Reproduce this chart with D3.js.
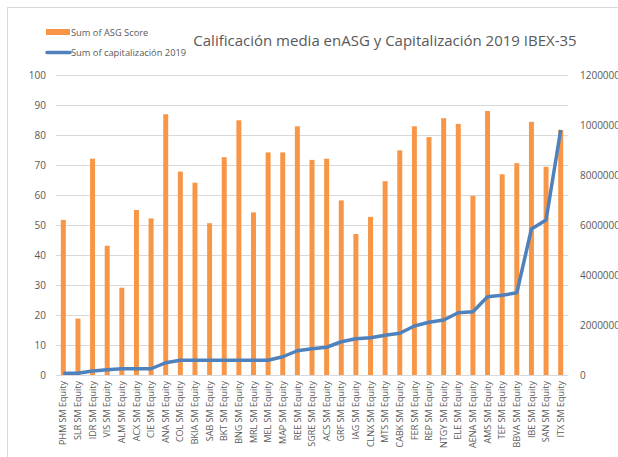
<!DOCTYPE html>
<html>
<head>
    <meta charset="UTF-8">
    <title>Calificación media ASG</title>
    <style>
        body { margin: 0; background: #fff; }
        text { font-family: "Open Sans", "Liberation Sans", sans-serif; fill: #595959; }
    </style>
</head>
<body>
    <script src="https://d3js.org/d3.v7.min.js"></script>
    <svg width="618" height="457"></svg>
    <script>
        // tickers, left to right
        let tickers = ['PHM', 'SLR', 'IDR', 'VIS', 'ALM', 'ACX', 'CIE', 'ANA', 'COL', 'BKIA',
            'SAB', 'BKT', 'BNG', 'MRL', 'MEL', 'MAP', 'REE', 'SGRE', 'ACS', 'GRF',
            'IAG', 'CLNX', 'MTS', 'CABK', 'FER', 'REP', 'NTGY', 'ELE', 'AENA', 'AMS',
            'TEF', 'BBVA', 'IBE', 'SAN', 'ITX'];
        let categories = tickers.map(t => t + ' SM Equity');

        // Sum of ASG Score (left axis)
        let asg_score = [51.7, 18.8, 72.1, 43.1, 29.1, 55, 52.2, 86.9, 67.8, 64.1,
            50.6, 72.6, 84.9, 54.2, 74.2, 74.2, 82.9, 71.7, 72.1, 58.2,
            47, 52.7, 64.6, 74.9, 82.9, 79.3, 85.6, 83.7, 59.7, 88,
            66.9, 70.6, 84.4, 69.4, 81.7];

        // Sum of capitalización 2019 (right axis)
        let capitalizacion = [700000, 700000, 1600000, 2100000, 2500000, 2500000, 2500000, 4900000, 5900000, 5900000,
            5900000, 5900000, 5900000, 5900000, 5900000, 7300000, 9700000, 10500000, 11100000, 13300000,
            14500000, 14900000, 15900000, 16700000, 19600000, 21100000, 22000000, 24900000, 25300000, 31300000,
            31900000, 32900000, 58400000, 62000000, 98000000];

        let left_ticks = [0, 10, 20, 30, 40, 50, 60, 70, 80, 90, 100];
        let right_ticks = [0, 20000000, 40000000, 60000000, 80000000, 100000000, 120000000];

        let svg = d3.select('svg');
        let margin = {left: 56, right: 568, top: 75, bottom: 375};

        // chart frame (runs past the right and bottom edges)
        svg.append('rect')
            .attr('x', 7.5).attr('y', 7.5)
            .attr('width', 700).attr('height', 480)
            .attr('fill', 'none')
            .attr('stroke', '#d9d9d9');

        let x = d3.scaleBand().domain(categories)
            .range([margin.left, margin.right])
            .paddingInner(0.66).paddingOuter(0.33);
        let y_left = d3.scaleLinear().domain([0, 100]).range([margin.bottom, margin.top]);
        let y_right = d3.scaleLinear().domain([0, 120000000]).range([margin.bottom, margin.top]);

        // gridlines
        svg.append('g')
            .selectAll('line')
            .data(left_ticks).enter()
            .append('line')
            .attr('x1', margin.left).attr('x2', margin.right)
            .attr('y1', d => Math.round(y_left(d)) + 0.5)
            .attr('y2', d => Math.round(y_left(d)) + 0.5)
            .attr('stroke', '#d9d9d9');

        // left axis
        let left_axis = svg.append('g')
            .attr('transform', 'translate(' + margin.left + ',0)')
            .call(d3.axisLeft(y_left).tickValues(left_ticks).tickSize(0).tickPadding(10));
        left_axis.select('.domain').remove();
        left_axis.selectAll('text').style('font-size', '10px').attr('fill', '#595959');

        // right axis
        let right_axis = svg.append('g')
            .attr('transform', 'translate(' + margin.right + ',0)')
            .call(d3.axisRight(y_right).tickValues(right_ticks).tickSize(0).tickPadding(12)
                .tickFormat(d3.format('d')));
        right_axis.select('.domain').remove();
        right_axis.selectAll('text').style('font-size', '10px').attr('fill', '#595959');

        // bars
        svg.append('g')
            .selectAll('rect')
            .data(asg_score).enter()
            .append('rect')
            .attr('x', (d, i) => x(categories[i]))
            .attr('width', x.bandwidth())
            .attr('y', d => y_left(d))
            .attr('height', d => y_left(0) - y_left(d))
            .attr('fill', '#f79646');

        // bottom axis
        let bottom_axis = svg.append('g')
            .attr('transform', 'translate(0,' + margin.bottom + ')')
            .call(d3.axisBottom(x).tickSize(0).tickPadding(6));
        bottom_axis.select('.domain').attr('stroke', '#d9d9d9');
        bottom_axis.selectAll('text')
            .style('font-size', '9px')
            .attr('fill', '#595959')
            .attr('text-anchor', 'end')
            .attr('dy', '0.35em')
            .attr('transform', 'rotate(-90)')
            .attr('x', -6).attr('y', 0);

        // line
        let line = d3.line()
            .x((d, i) => x(categories[i]) + x.bandwidth() / 2)
            .y(d => y_right(d));
        svg.append('path')
            .datum(capitalizacion)
            .attr('d', line)
            .attr('fill', 'none')
            .attr('stroke', '#4f81bd')
            .attr('stroke-width', 3.5)
            .attr('stroke-linejoin', 'round');

        // title
        svg.append('text')
            .attr('x', 385).attr('y', 46)
            .attr('text-anchor', 'middle')
            .style('font-size', '15px')
            .text('Calificación media enASG y Capitalización 2019 IBEX-35');

        // legend
        let legend = svg.append('g');
        legend.append('rect')
            .attr('x', 46).attr('y', 29).attr('width', 24).attr('height', 6)
            .attr('fill', '#f79646');
        legend.append('text')
            .attr('x', 71).attr('y', 35.5)
            .style('font-size', '9.3px')
            .text('Sum of ASG Score');
        legend.append('line')
            .attr('x1', 47).attr('x2', 70).attr('y1', 52.5).attr('y2', 52.5)
            .attr('stroke', '#4f81bd').attr('stroke-width', 3.5)
            .attr('stroke-linecap', 'round');
        legend.append('text')
            .attr('x', 71).attr('y', 55.5)
            .style('font-size', '9.3px')
            .text('Sum of capitalización 2019');
    </script>
</body>
</html>
